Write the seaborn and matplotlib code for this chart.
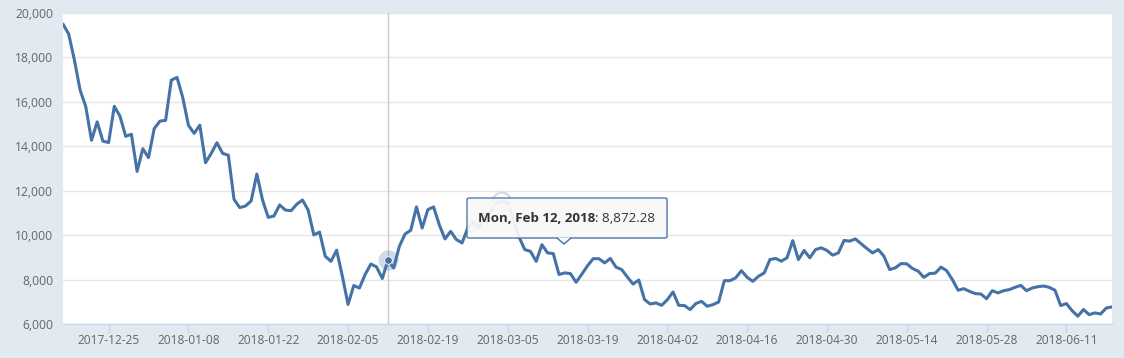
import pandas as pd
import seaborn as sns
import matplotlib.pyplot as plt
import matplotlib.dates as mdates
from matplotlib.patches import FancyBboxPatch, Polygon
from matplotlib.ticker import FuncFormatter

# daily closing price, 2017-12-17 .. 2018-06-19
start_date = "2017-12-17"
end_date = "2018-06-19"
prices = [
    19500, 19050, 17880, 16530, 15780, 14270, 15100, 14230, 14170, 15800,
    15350, 14450, 14540, 12870, 13890, 13490, 14800, 15130, 15170, 16980,
    17100, 16200, 14950, 14580, 14950, 13260, 13680, 14160, 13680, 13600,
    11610, 11240, 11310, 11540, 12750, 11580, 10800, 10860, 11360, 11130,
    11100, 11390, 11580, 11130, 10010, 10140, 9050, 8820, 9320, 8150,
    6880, 7730, 7620, 8230, 8700, 8570, 8050, 8872.28, 8520, 9500,
    10050, 10220, 11270, 10320, 11150, 11270, 10470, 9830, 10170, 9800,
    9650, 10330, 10590, 10330, 10930, 11040, 11460, 11510, 11450, 10720,
    9910, 9350, 9270, 8820, 9570, 9200, 9170, 8230, 8300, 8270,
    7880, 8240, 8620, 8940, 8940, 8750, 8950, 8560, 8450, 8110,
    7800, 7980, 7100, 6900, 6950, 6840, 7090, 7440, 6840, 6830,
    6650, 6920, 7020, 6800, 6870, 6990, 7950, 7950, 8080, 8400,
    8100, 7920, 8150, 8300, 8900, 8950, 8830, 8980, 9750, 8900,
    9310, 8980, 9350, 9430, 9310, 9100, 9200, 9760, 9730, 9830,
    9610, 9400, 9200, 9350, 9050, 8450, 8530, 8720, 8710, 8500,
    8380, 8100, 8270, 8290, 8560, 8400, 8000, 7520, 7590, 7470,
    7370, 7350, 7140, 7500, 7400, 7500, 7550, 7650, 7740, 7500,
    7620, 7680, 7710, 7650, 7520, 6830, 6920, 6600, 6350, 6650,
    6420, 6500, 6450, 6720, 6770,
]
dates = pd.date_range(start_date, end_date, freq="D")
df = pd.DataFrame({"date": dates, "price": prices})

y_ticks = [6000, 8000, 10000, 12000, 14000, 16000, 18000, 20000]
x_ticks = pd.date_range("2017-12-25", "2018-06-11", freq="14D")

hover_date = pd.Timestamp("2018-02-12")
hover_value = 8872.28
hover_day = "Mon, Feb 12, 2018"
ghost_date = pd.Timestamp("2018-03-04")

BG = "#e2e9f0"
LINE = "#4572a7"
GRID = "#e6e6e6"
AXIS = "#ccd6eb"

sns.set_theme(style="white")
plt.rcParams["font.family"] = ["Open Sans", "DejaVu Sans"]

W, H = 1124, 358
fig = plt.figure(figsize=(W / 100, H / 100), dpi=100, facecolor=BG)
ax = fig.add_axes([63 / W, 1 - 324 / H, (1112 - 63) / W, (324 - 13) / H])
ax.set_facecolor("white")

sns.lineplot(data=df, x="date", y="price", ax=ax, color=LINE, linewidth=2.2, zorder=3)

ax.set_xlim(dates[0], dates[-1])
ax.set_ylim(y_ticks[0], y_ticks[-1])
ax.set_yticks(y_ticks)
ax.yaxis.set_major_formatter(FuncFormatter(lambda v, _: f"{v:,.0f}"))
ax.set_xticks(x_ticks)
ax.xaxis.set_major_formatter(mdates.DateFormatter("%Y-%m-%d"))
ax.set_xlabel("")
ax.set_ylabel("")

ax.grid(axis="y", color=GRID, linewidth=1)
ax.set_axisbelow(True)
for side in ["top", "right", "left"]:
    ax.spines[side].set_visible(False)
ax.spines["bottom"].set_color(AXIS)
ax.spines["bottom"].set_linewidth(1)
ax.tick_params(axis="x", length=6.5, width=1, color=AXIS, labelcolor="#666666",
               labelsize=8.6, pad=1, bottom=True)
ax.tick_params(axis="y", length=0, pad=7, labelcolor="#666666", labelsize=8.7)

# hover crosshair and marker
ax.axvline(hover_date, color="#cccccc", linewidth=1, zorder=2)
ax.scatter([hover_date], [hover_value], s=210, color=LINE, alpha=0.25,
           linewidths=0, zorder=4)
ax.scatter([ghost_date], [df.loc[df.date == ghost_date, "price"].iloc[0]], s=170,
           facecolors="none", edgecolors="#d3d9e1", linewidths=1.6, zorder=4)
ax.scatter([hover_date], [hover_value], s=30, color=LINE, edgecolors="white",
           linewidths=0.6, zorder=5)


# tooltip (pixel positions converted to figure fractions)
def fx(px):
    return px / W


def fy(py):
    return 1 - py / H


bx0, bx1, by0, by1 = 467, 667, 198, 238
shadow = FancyBboxPatch((fx(bx0 + 1), fy(by1 + 1)), fx(bx1) - fx(bx0), fy(by0) - fy(by1),
                        boxstyle="round,pad=0,rounding_size=0.003",
                        transform=fig.transFigure, facecolor="black", alpha=0.08,
                        edgecolor="none", zorder=9)
box = FancyBboxPatch((fx(bx0), fy(by1)), fx(bx1) - fx(bx0), fy(by0) - fy(by1),
                     boxstyle="round,pad=0,rounding_size=0.003",
                     transform=fig.transFigure, facecolor="#fafafa", alpha=0.93,
                     edgecolor=LINE, linewidth=1, zorder=10)
fig.patches.extend([shadow, box])
tip = Polygon([(fx(557), fy(by1 - 0.5)), (fx(564), fy(244)), (fx(571), fy(by1 - 0.5))],
              closed=True, transform=fig.transFigure, facecolor="#fafafa",
              edgecolor="none", zorder=11)
fig.patches.append(tip)
fig.lines.append(plt.Line2D([fx(557), fx(564), fx(571)], [fy(by1), fy(244), fy(by1)],
                            transform=fig.transFigure, color=LINE, linewidth=1, zorder=12))

t1 = fig.text(fx(478), fy(218), hover_day, fontsize=9.6, fontweight="bold",
              color="#333333", va="center", ha="left", zorder=13)
fig.canvas.draw()
ext = t1.get_window_extent()
fig.text(ext.x1 / W, fy(218), f": {hover_value:,.2f}", fontsize=9.6,
         color="#333333", va="center", ha="left", zorder=13)

fig.savefig("out.png", dpi=100, facecolor=BG)
